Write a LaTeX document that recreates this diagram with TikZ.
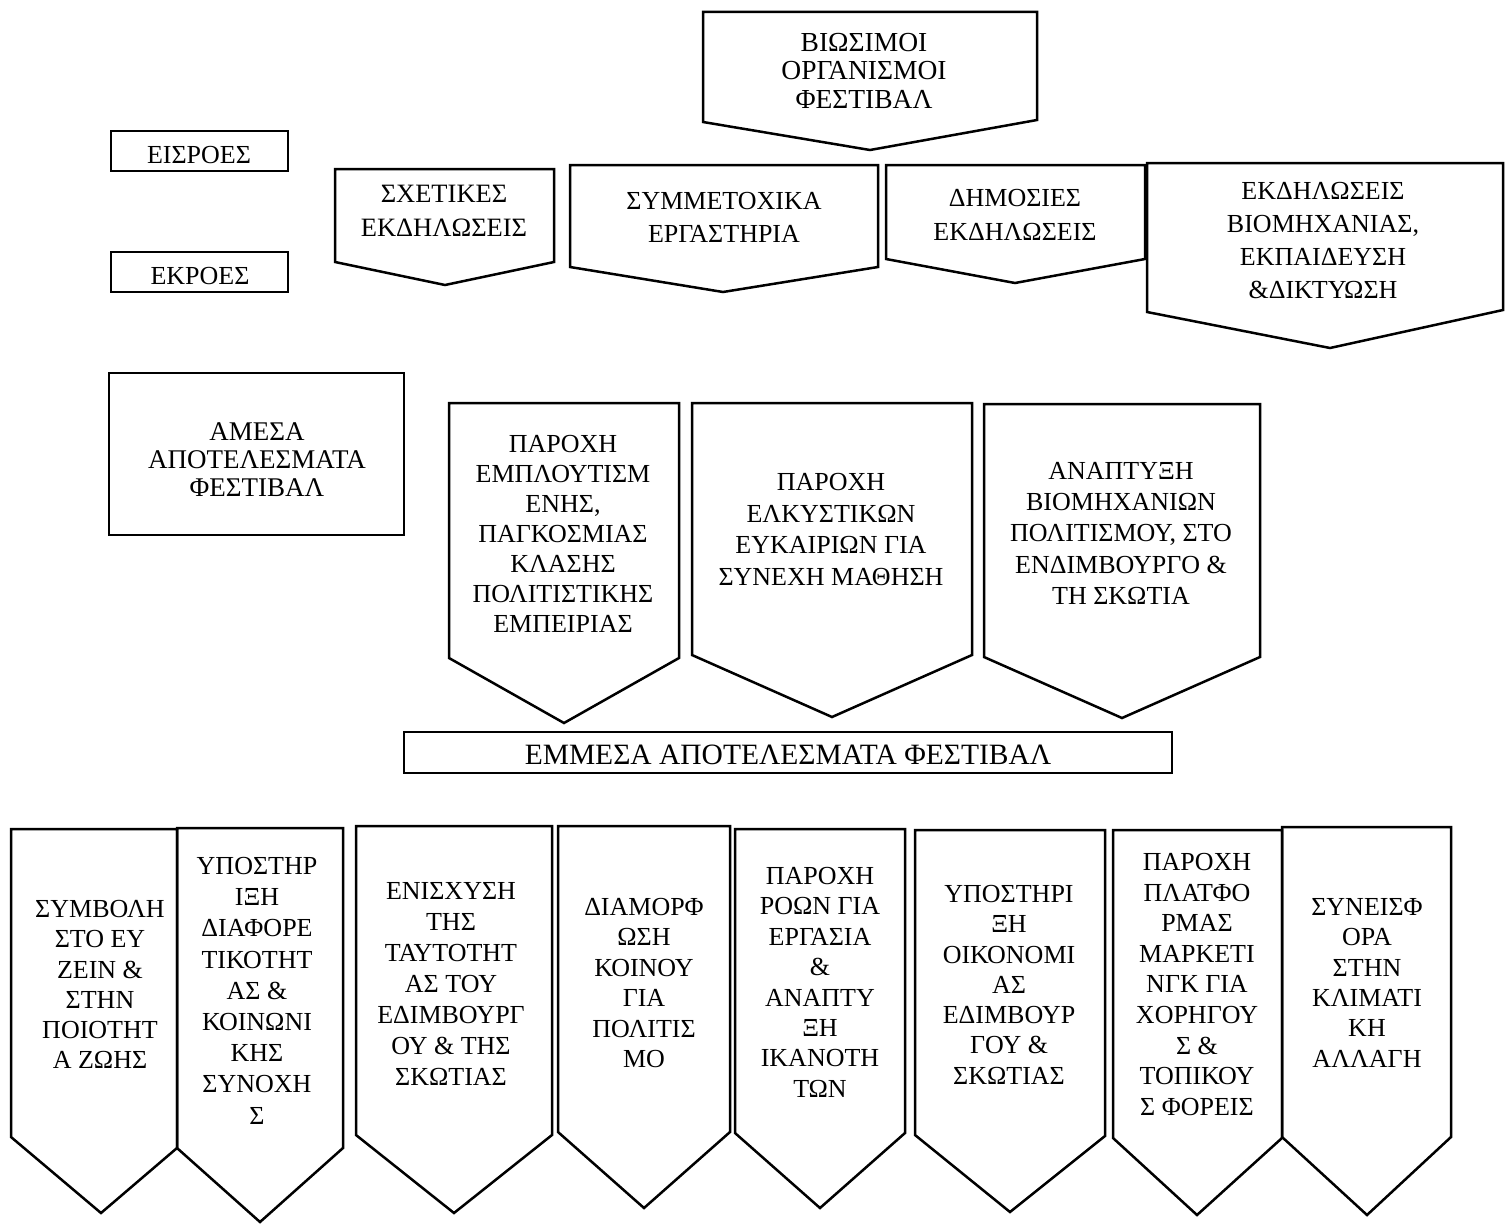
\documentclass[tikz,border=0pt]{standalone}
\usepackage{fontspec}
\setmainfont{Liberation Serif}
\tikzset{
  shp/.style={draw=black, line width=2.5pt, line join=miter},
  lbl/.style={anchor=north, inner sep=0pt, align=center, font=\fontsize{26}{30.5}\selectfont},
  sp/.style={font=\fontsize{26}{#1}\selectfont},
  spbig/.style 2 args={font=\fontsize{#1}{#2}\selectfont},
}
\newcommand\pentshape[7]{\draw[shp] (#1,#3) -- (#2,#3) -- (#2,#5) -- (#6,#7) -- (#1,#4) -- cycle;}
\begin{document}
\begin{tikzpicture}[x=1pt,y=-1pt]
\useasboundingbox[fill=white] (0,0) rectangle (1506,1223);
% top row
\pentshape{703}{1037}{12}{122}{120}{870}{150}
\pentshape{335}{554}{169}{262}{262}{445}{285}
\pentshape{570}{878}{165}{267}{267}{723}{292}
\pentshape{886}{1145}{165}{259}{259}{1015}{283}
\pentshape{1147}{1503}{163}{312}{310}{1330}{348}
% rectangles
\draw[shp] (111,131) rectangle (288,171);
\draw[shp] (111,252) rectangle (288,292);
\draw[shp] (109,373) rectangle (404,535);
\draw[shp] (404,732) rectangle (1172,773);
% middle row
\pentshape{449}{679}{403}{658}{658}{564}{723}
\pentshape{692}{972}{403}{655}{655}{832}{717}
\pentshape{984}{1260}{404}{657}{657}{1122}{718}
% bottom row
\pentshape{11}{177}{829}{1137}{1148}{101}{1213}
\pentshape{177}{343}{828}{1148}{1148}{260}{1222}
\pentshape{356}{552}{826}{1135}{1135}{454}{1213}
\pentshape{558}{730}{826}{1132}{1132}{644}{1208}
\pentshape{735}{905}{829}{1133}{1133}{820}{1208}
\pentshape{915}{1105}{830}{1135}{1136}{1010}{1212}
\pentshape{1113}{1282}{830}{1138}{1138}{1197}{1215}
\pentshape{1282}{1451}{827}{1137}{1137}{1367}{1215}
% texts
\node[lbl,spbig={27.5}{28.5}] (org) at (864,33) {ΒΙΩΣΙΜΟΙ\\ΟΡΓΑΝΙΣΜΟΙ\\ΦΕΣΤΙΒΑΛ};
\node[lbl] (in) at (199,146) {ΕΙΣΡΟΕΣ};
\node[lbl] (out) at (200,267) {ΕΚΡΟΕΣ};
\node[lbl,spbig={26.5}{34}] (i1) at (444,185) {ΣΧΕΤΙΚΕΣ\\ΕΚΔΗΛΩΣΕΙΣ};
\node[lbl,sp=33] (i2) at (724,192) {ΣΥΜΜΕΤΟΧΙΚΑ\\ΕΡΓΑΣΤΗΡΙΑ};
\node[lbl,sp=34] (i3) at (1015,189) {ΔΗΜΟΣΙΕΣ\\ΕΚΔΗΛΩΣΕΙΣ};
\node[lbl,sp=33] (i4) at (1323,182) {ΕΚΔΗΛΩΣΕΙΣ\\ΒΙΟΜΗΧΑΝΙΑΣ,\\ΕΚΠΑΙΔΕΥΣΗ\\\&ΔΙΚΤΥΩΣΗ};
\node[lbl,spbig={27}{28.3}] (dir) at (257,422) {ΑΜΕΣΑ\\ΑΠΟΤΕΛΕΣΜΑΤΑ\\ΦΕΣΤΙΒΑΛ};
\node[lbl,sp=30] (d1) at (563,435) {ΠΑΡΟΧΗ\\ΕΜΠΛΟΥΤΙΣΜ\\ΕΝΗΣ,\\ΠΑΓΚΟΣΜΙΑΣ\\ΚΛΑΣΗΣ\\ΠΟΛΙΤΙΣΤΙΚΗΣ\\ΕΜΠΕΙΡΙΑΣ};
\node[lbl,sp=31.7] (d2) at (831,473) {ΠΑΡΟΧΗ\\ΕΛΚΥΣΤΙΚΩΝ\\ΕΥΚΑΙΡΙΩΝ ΓΙΑ\\ΣΥΝΕΧΗ ΜΑΘΗΣΗ};
\node[lbl,sp=31.3] (d3) at (1121,462) {ΑΝΑΠΤΥΞΗ\\ΒΙΟΜΗΧΑΝΙΩΝ\\ΠΟΛΙΤΙΣΜΟΥ, ΣΤΟ\\ΕΝΔΙΜΒΟΥΡΓΟ \&\\ΤΗ ΣΚΩΤΙΑ};
\node[lbl,spbig={29.5}{34}] (ind) at (788,745) {ΕΜΜΕΣΑ ΑΠΟΤΕΛΕΣΜΑΤΑ ΦΕΣΤΙΒΑΛ};
\node[lbl,sp=30.3] (b1) at (100,900) {ΣΥΜΒΟΛΗ\\ΣΤΟ ΕΥ\\ΖΕΙΝ \&\\ΣΤΗΝ\\ΠΟΙΟΤΗΤ\\Α ΖΩΗΣ};
\node[lbl,sp=31.2] (b2) at (257,857) {ΥΠΟΣΤΗΡ\\ΙΞΗ\\ΔΙΑΦΟΡΕ\\ΤΙΚΟΤΗΤ\\ΑΣ \&\\ΚΟΙΝΩΝΙ\\ΚΗΣ\\ΣΥΝΟΧΗ\\Σ};
\node[lbl,sp=31] (b3) at (451,882) {ΕΝΙΣΧΥΣΗ\\ΤΗΣ\\ΤΑΥΤΟΤΗΤ\\ΑΣ ΤΟΥ\\ΕΔΙΜΒΟΥΡΓ\\ΟΥ \& ΤΗΣ\\ΣΚΩΤΙΑΣ};
\node[lbl,sp=30.4] (b4) at (644,898) {ΔΙΑΜΟΡΦ\\ΩΣΗ\\ΚΟΙΝΟΥ\\ΓΙΑ\\ΠΟΛΙΤΙΣ\\ΜΟ};
\node[lbl,sp=30.4] (b5) at (820,867) {ΠΑΡΟΧΗ\\ΡΟΩΝ ΓΙΑ\\ΕΡΓΑΣΙΑ\\\&\\ΑΝΑΠΤΥ\\ΞΗ\\ΙΚΑΝΟΤΗ\\ΤΩΝ};
\node[lbl,sp=30.3] (b6) at (1009,885) {ΥΠΟΣΤΗΡΙ\\ΞΗ\\ΟΙΚΟΝΟΜΙ\\ΑΣ\\ΕΔΙΜΒΟΥΡ\\ΓΟΥ \&\\ΣΚΩΤΙΑΣ};
\node[lbl,sp=30.6] (b7) at (1197,853) {ΠΑΡΟΧΗ\\ΠΛΑΤΦΟ\\ΡΜΑΣ\\ΜΑΡΚΕΤΙ\\ΝΓΚ ΓΙΑ\\ΧΟΡΗΓΟΥ\\Σ \&\\ΤΟΠΙΚΟΥ\\Σ ΦΟΡΕΙΣ};
\node[lbl,sp=30.4] (b8) at (1367,898) {ΣΥΝΕΙΣΦ\\ΟΡΑ\\ΣΤΗΝ\\ΚΛΙΜΑΤΙ\\ΚΗ\\ΑΛΛΑΓΗ};
\end{tikzpicture}
\end{document}
